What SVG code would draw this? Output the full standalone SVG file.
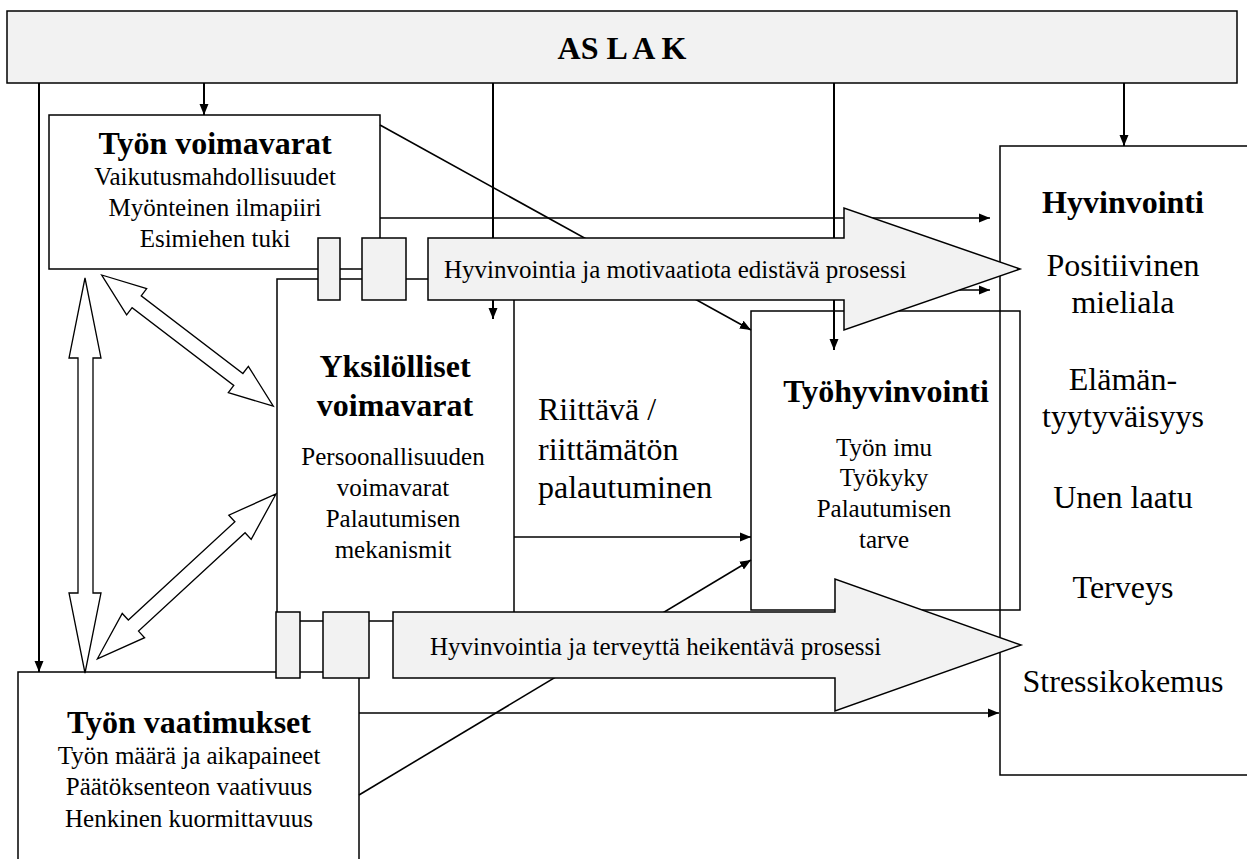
<svg xmlns="http://www.w3.org/2000/svg" width="1247" height="859" viewBox="0 0 1247 859" font-family="'Liberation Serif', 'Times New Roman', Tinos, 'DejaVu Serif', serif">
  <defs>
    <style>
      .box { fill: none; stroke: #000; stroke-width: 1.5; }
      .bar { fill: #f2f2f2; stroke: #000; stroke-width: 1.5; }
      .block { fill: #f2f2f2; stroke: #000; stroke-width: 1.5; stroke-linejoin: miter; }
      .hollow { fill: #fff; stroke: #000; stroke-width: 1.3; stroke-linejoin: miter; }
      .conn { fill: none; stroke: #000; stroke-width: 2; }
      .conn-thin { fill: none; stroke: #000; stroke-width: 1.6; }
      .arr { marker-end: url(#head); }
      text { fill: #000; }
      .h { font-size: 32px; font-weight: bold; }
      .big { font-size: 32px; }
      .sub { font-size: 25px; }
      .mid { text-anchor: middle; }
    </style>
    <marker id="head" markerUnits="userSpaceOnUse" markerWidth="12" markerHeight="10" refX="11" refY="5" orient="auto">
      <path d="M0,0.5 L11,5 L0,9.5 Z" fill="#000"/>
    </marker>
  </defs>

  <!-- ASLAK banner -->
  <g id="aslak">
    <rect class="bar" x="7" y="11" width="1230" height="72"/>
    <text class="h mid" x="622" y="59">AS L A K</text>
  </g>

  <!-- outcome and resource boxes (outlines only, they overlap) -->
  <g id="tyon-voimavarat">
    <rect class="box" x="49" y="115" width="331" height="154"/>
  </g>
  <g id="tyon-vaatimukset">
    <rect class="box" x="18" y="672" width="341" height="210"/>
  </g>
  <g id="yksilolliset-voimavarat">
    <rect class="box" x="277" y="279" width="237" height="342"/>
  </g>
  <g id="tyohyvinvointi">
    <rect class="box" x="751" y="311" width="269" height="299"/>
  </g>
  <g id="hyvinvointi">
    <rect class="box" x="1000" y="146" width="260" height="629"/>
  </g>

  <!-- connectors -->
  <g id="connectors">
    <line class="conn arr" x1="204" y1="83" x2="204" y2="115"/>
    <line class="conn arr" x1="39" y1="83" x2="39" y2="672"/>
    <line class="conn arr" x1="493" y1="83" x2="493" y2="319"/>
    <line class="conn arr" x1="834" y1="83" x2="834" y2="350"/>
    <line class="conn arr" x1="1124" y1="83" x2="1124" y2="146"/>
    <line class="conn-thin arr" x1="380" y1="218" x2="990" y2="218"/>
    <line class="conn-thin arr" x1="380" y1="125" x2="751" y2="330"/>
    <line class="conn-thin arr" x1="514" y1="290" x2="990" y2="290"/>
    <line class="conn-thin arr" x1="514" y1="537" x2="751" y2="537"/>
    <line class="conn-thin arr" x1="359" y1="713" x2="999" y2="713"/>
    <line class="conn-thin arr" x1="359" y1="795" x2="751" y2="560"/>
  </g>

  <!-- process arrows with their coupling blocks -->
  <g id="prosessi-edistava">
    <rect class="block" x="318" y="238" width="22" height="62"/>
    <rect class="block" x="362" y="238" width="44" height="62"/>
    <polygon class="block" points="428,238 844,238 844,208 1020,269 844,330 844,300 428,300"/>
    <text class="sub" x="444" y="278">Hyvinvointia ja motivaatiota edistävä prosessi</text>
  </g>
  <g id="prosessi-heikentava">
    <rect class="block" x="276" y="612" width="24" height="66"/>
    <rect class="block" x="323" y="612" width="46" height="66"/>
    <polygon class="block" points="393,612 835,612 835,579 1021,645 835,711 835,678 393,678"/>
    <text class="sub" x="430" y="655">Hyvinvointia ja terveyttä heikentävä prosessi</text>
  </g>

  <!-- two-way interaction arrows -->
  <g id="vuorovaikutus">
    <polygon class="hollow" points="85,278 101,358 93,358 93,593 101,593 85,673 69,593 78,593 78,358 69,358"/>
    <g transform="translate(101.7,275) rotate(37.4)">
      <polygon class="hollow" points="0,0 44,-16.5 44,-7.5 172,-7.5 172,-16.5 216,0 172,16.5 172,7.5 44,7.5 44,16.5"/>
    </g>
    <g transform="translate(276,494) rotate(137.3)">
      <polygon class="hollow" points="0,0 49,-16.5 49,-7.5 194,-7.5 194,-16.5 243,0 194,16.5 194,7.5 49,7.5 49,16.5"/>
    </g>
  </g>

  <!-- labels -->
  <g id="tyon-voimavarat-text">
    <text class="h mid" x="215" y="154">Työn voimavarat</text>
    <text class="sub mid" x="215" y="185">Vaikutusmahdollisuudet</text>
    <text class="sub mid" x="215" y="216">Myönteinen ilmapiiri</text>
    <text class="sub mid" x="215" y="247">Esimiehen tuki</text>
  </g>
  <g id="yksilolliset-text">
    <text class="h mid" x="395" y="377">Yksilölliset</text>
    <text class="h mid" x="395" y="416">voimavarat</text>
    <text class="sub mid" x="393" y="465">Persoonallisuuden</text>
    <text class="sub mid" x="393" y="496">voimavarat</text>
    <text class="sub mid" x="393" y="527">Palautumisen</text>
    <text class="sub mid" x="393" y="558">mekanismit</text>
  </g>
  <g id="palautuminen">
    <text class="big" x="538" y="420">Riittävä /</text>
    <text class="big" x="538" y="460">riittämätön</text>
    <text class="big" x="538" y="498">palautuminen</text>
  </g>
  <g id="tyohyvinvointi-text">
    <text class="h mid" x="886" y="402">Työhyvinvointi</text>
    <text class="sub mid" x="884" y="456">Työn imu</text>
    <text class="sub mid" x="884" y="486">Työkyky</text>
    <text class="sub mid" x="884" y="517">Palautumisen</text>
    <text class="sub mid" x="884" y="548">tarve</text>
  </g>
  <g id="hyvinvointi-text">
    <text class="h mid" x="1123" y="213">Hyvinvointi</text>
    <text class="big mid" x="1123" y="276">Positiivinen</text>
    <text class="big mid" x="1123" y="313">mieliala</text>
    <text class="big mid" x="1123" y="390">Elämän-</text>
    <text class="big mid" x="1123" y="427">tyytyväisyys</text>
    <text class="big mid" x="1123" y="508">Unen laatu</text>
    <text class="big mid" x="1123" y="598">Terveys</text>
    <text class="big mid" x="1123" y="692">Stressikokemus</text>
  </g>
  <g id="tyon-vaatimukset-text">
    <text class="h mid" x="189" y="733">Työn vaatimukset</text>
    <text class="sub mid" x="189" y="764">Työn määrä ja aikapaineet</text>
    <text class="sub mid" x="189" y="795">Päätöksenteon vaativuus</text>
    <text class="sub mid" x="189" y="827">Henkinen kuormittavuus</text>
  </g>
</svg>
